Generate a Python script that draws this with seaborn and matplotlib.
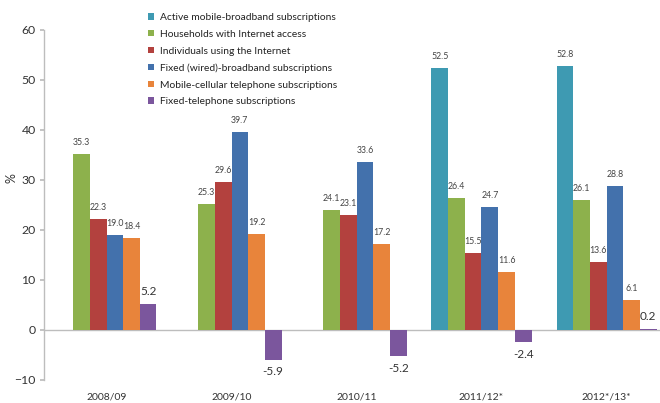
import numpy as np
import pandas as pd
import matplotlib
matplotlib.use("Agg")
import matplotlib.pyplot as plt
import seaborn as sns

periods = ["2008/09", "2009/10", "2010/11", "2011/12*", "2012*/13*"]
series = ["Active mobile-broadband subscriptions",
          "Households with Internet access",
          "Individuals using the Internet",
          "Fixed (wired)-broadband subscriptions",
          "Mobile-cellular telephone subscriptions",
          "Fixed-telephone subscriptions"]
active_mobile = [np.nan, np.nan, np.nan, 52.5, 52.8]
households = [35.3, 25.3, 24.1, 26.4, 26.1]
individuals = [22.3, 29.6, 23.1, 15.5, 13.6]
fixed_broadband = [19.0, 39.7, 33.6, 24.7, 28.8]
mobile_cellular = [18.4, 19.2, 17.2, 11.6, 6.1]
fixed_telephone = [5.2, -5.9, -5.2, -2.4, 0.2]
colors = ["#3E9AB2", "#8DB14C", "#B3413E", "#4371AC", "#E8843B", "#7B569D"]

values = [active_mobile, households, individuals, fixed_broadband,
          mobile_cellular, fixed_telephone]
rows = []
for s, vals in zip(series, values):
    for p, v in zip(periods, vals):
        rows.append({"period": p, "series": s, "value": v})
df = pd.DataFrame(rows)

sns.set_theme(style="white")
plt.rcParams["font.family"] = ["Lato", "DejaVu Sans"]

fig = plt.figure(figsize=(6.6, 4.03), dpi=100)
ax = fig.add_axes([44/660, 1-380/403, (660-44)/660, 350/403])

sns.barplot(data=df, x="period", y="value", hue="series", order=periods,
            hue_order=series, palette=colors, width=0.8, ax=ax,
            errorbar=None, saturation=1, legend=True, linewidth=0)

ax.set_xlim(-0.5, (660-44)/125 - 0.5)
ax.set_ylim(-10, 60)
ax.set_yticks(range(-10, 61, 10))
ax.axhline(0, color="#bdbdbd", lw=1, zorder=0)

for i, cont in enumerate(ax.containers):
    vals = cont.datavalues
    labels = [f"{v:.1f}" if np.isfinite(v) else "" for v in vals]
    if i == 5:
        ax.bar_label(cont, labels=labels, fontsize=8.5, color="#333333",
                     padding=5)
    else:
        ax.bar_label(cont, labels=labels, fontsize=6.3, color="#444444",
                     padding=5)

for sp in ["top", "right", "bottom"]:
    ax.spines[sp].set_visible(False)
ax.spines["left"].set_color("#bdbdbd")
ax.spines["left"].set_linewidth(1)
ax.tick_params(axis="y", left=True, length=3, color="#bdbdbd",
               labelsize=8.8, labelcolor="#333333", pad=3)
ax.tick_params(axis="x", bottom=False, labelsize=7.5, labelcolor="#333333",
               pad=3)
ax.set_xlabel("")
ax.set_ylabel("%", fontsize=9, color="#333333")
ax.yaxis.set_label_coords((18-44)/616, (380-178)/350)

handles, labs = ax.get_legend_handles_labels()
leg = ax.legend(handles, labs, loc="upper left",
                bbox_to_anchor=(143/660, 1-8/403),
                bbox_transform=fig.transFigure, frameon=False,
                fontsize=7.4, handlelength=0.6, handleheight=0.6,
                handletextpad=0.6, labelspacing=0.75, borderpad=0)
for t in leg.get_texts():
    t.set_color("#222222")

fig.savefig("out.png", dpi=100)
